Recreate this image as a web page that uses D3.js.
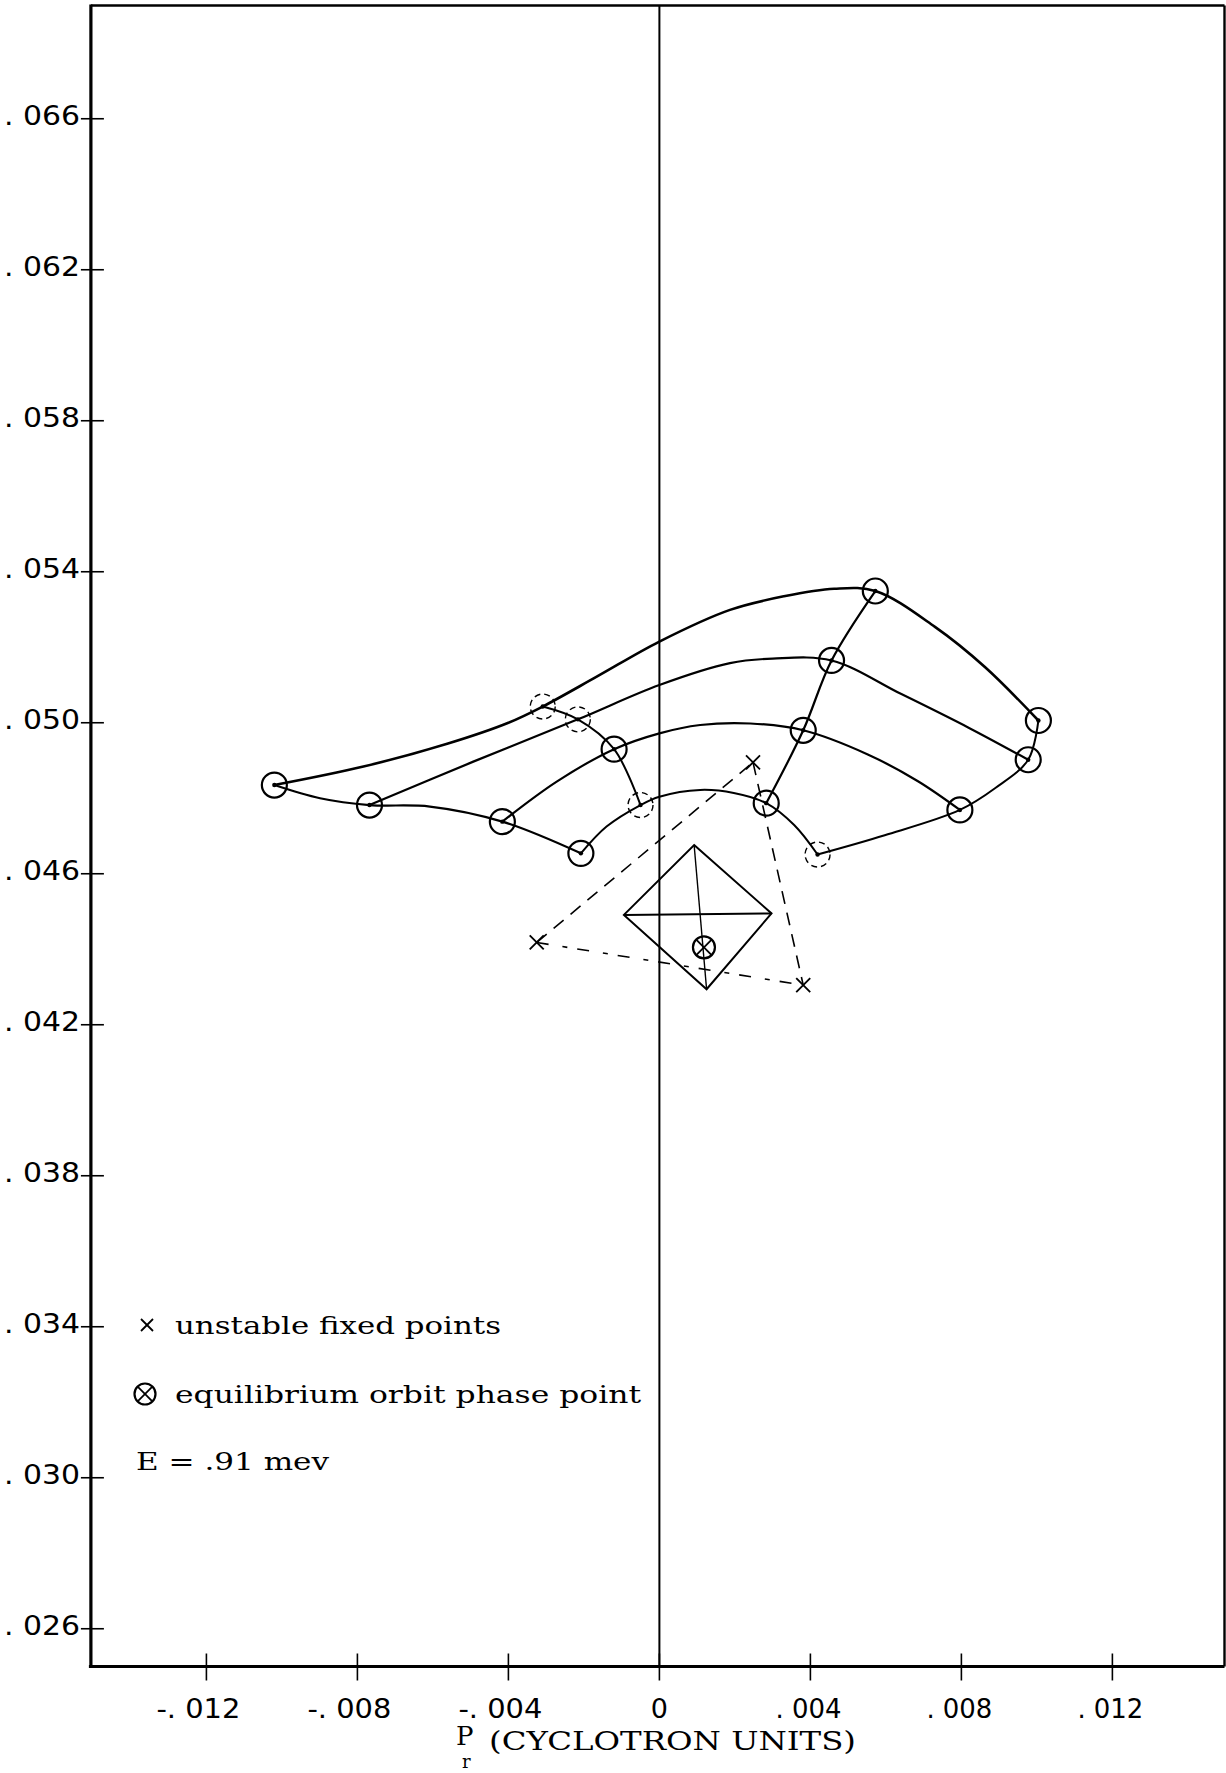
<!DOCTYPE html>
<html>
<head>
<meta charset="utf-8">
<script src="https://cdn.jsdelivr.net/npm/d3@7"></script>
<style>
  body { margin: 0; background: #fff; }
  svg { display: block; }
</style>
</head>
<body>
<svg id="chart" width="1226" height="1773"></svg>
<script>
const width = 1226
const height = 1773

// axis ticks
const xTicks = [-0.012, -0.008, -0.004, 0, 0.004, 0.008, 0.012]
const xTickLabels = ["-. 012", "-. 008", "-. 004", "0", ". 004", ". 008", ". 012"]
const yTicks = [0.026, 0.030, 0.034, 0.038, 0.042, 0.046, 0.050, 0.054, 0.058, 0.062, 0.066]
const yTickLabels = [". 026", ". 030", ". 034", ". 038", ". 042", ". 046", ". 050", ". 054", ". 058", ". 062", ". 066"]

// phase points (circled), A..D = radial families, 1..4 = outer to inner
const phasePoints = [
  {id: "A1", x: -0.01020, y: 0.04835, dashed: false},
  {id: "A2", x: -0.00768, y: 0.04782, dashed: false},
  {id: "A3", x: -0.00416, y: 0.04738, dashed: false},
  {id: "A4", x: -0.00208, y: 0.04654, dashed: false},
  {id: "B1", x: -0.00309, y: 0.05043, dashed: true},
  {id: "B2", x: -0.00216, y: 0.05009, dashed: true},
  {id: "B3", x: -0.00120, y: 0.04930, dashed: false},
  {id: "B4", x: -0.00050, y: 0.04782, dashed: true},
  {id: "C1", x: 0.00572, y: 0.05349, dashed: false},
  {id: "C2", x: 0.00456, y: 0.05165, dashed: false},
  {id: "C3", x: 0.00381, y: 0.04980, dashed: false},
  {id: "C4", x: 0.00283, y: 0.04787, dashed: false},
  {id: "D1", x: 0.01004, y: 0.05006, dashed: false},
  {id: "D2", x: 0.00977, y: 0.04902, dashed: false},
  {id: "D3", x: 0.00796, y: 0.04769, dashed: false},
  {id: "D4", x: 0.00419, y: 0.04651, dashed: true}
]

// contours (traced through the circled points)
const contour1 = [[-0.01020,0.04835],[-0.00784,0.04884],[-0.00560,0.04945],[-0.00400,0.05000],[-0.00309,0.05043],[-0.00166,0.05122],[0,0.05215],[0.00187,0.05299],[0.00330,0.05335],[0.00463,0.05355],[0.00572,0.05349],[0.00730,0.05254],[0.00863,0.05147],[0.01004,0.05006]]
const contour2 = [[-0.00768,0.04782],[-0.00493,0.04897],[-0.00216,0.05009],[0,0.05100],[0.00187,0.05158],[0.00300,0.05170],[0.00456,0.05165],[0.00641,0.05076],[0.00819,0.04987],[0.00977,0.04902]]
const contour3 = [[-0.00416,0.04738],[-0.00272,0.04844],[-0.00120,0.04930],[0,0.04972],[0.00108,0.04994],[0.00241,0.04998],[0.00381,0.04980],[0.00552,0.04916],[0.00685,0.04845],[0.00796,0.04769]]
const contour4 = [[-0.00208,0.04654],[-0.00140,0.04725],[-0.00050,0.04782],[0,0.04804],[0.00108,0.04822],[0.00197,0.04814],[0.00283,0.04787],[0.00357,0.04729],[0.00419,0.04651]]

const lineA = [[-0.01020,0.04835],[-0.00899,0.04800],[-0.00768,0.04782],[-0.00608,0.04778],[-0.00416,0.04738],[-0.00208,0.04654]]
const lineB = [[-0.00309,0.05043],[-0.00216,0.05009],[-0.00120,0.04930],[-0.00050,0.04782]]
const lineC = [[0.00572,0.05349],[0.00456,0.05165],[0.00381,0.04980],[0.00283,0.04787]]
const lineD = [[0.01004,0.05006],[0.00977,0.04902],[0.00890,0.04827],[0.00796,0.04769],[0.00597,0.04702],[0.00419,0.04651]]

// diamond around equilibrium point: top, right, bottom, left
const diamond = [[0.00092,0.04676],[0.00297,0.04495],[0.00125,0.04294],[-0.00094,0.04491]]
const equilibrium = {x: 0.00118, y: 0.04405}

// unstable fixed points: left, top, right
const unstable = [[-0.00325,0.04418],[0.00248,0.04895],[0.00381,0.04305]]

const legendItems = ["unstable fixed points", "equilibrium orbit phase point", "E = .91 mev"]

const xScale = d3.scaleLinear().domain([-0.01506, 0.01497]).range([90.9, 1224.5])
const yScale = d3.scaleLinear().domain([0.025, 0.069]).range([1666.5, 5.5])

const svg = d3.select("#chart")
svg.append("rect").attr("width", width).attr("height", height).attr("fill", "#fff")

const x0 = xScale.range()[0], x1 = xScale.range()[1]
const y0 = yScale.range()[0], y1 = yScale.range()[1]

// frame
svg.append("line").attr("x1", x0).attr("x2", x0).attr("y1", y1 - 1).attr("y2", y0 + 1)
  .attr("stroke", "#000").attr("stroke-width", 3.2)
svg.append("line").attr("x1", x0 - 2).attr("x2", x1).attr("y1", y0).attr("y2", y0)
  .attr("stroke", "#000").attr("stroke-width", 3.2)
svg.append("line").attr("x1", x0).attr("x2", x1).attr("y1", y1).attr("y2", y1)
  .attr("stroke", "#000").attr("stroke-width", 2.6)
svg.append("line").attr("x1", x1).attr("x2", x1).attr("y1", y1).attr("y2", y0)
  .attr("stroke", "#000").attr("stroke-width", 2.4)

// vertical line at Pr = 0
svg.append("line").attr("x1", xScale(0)).attr("x2", xScale(0)).attr("y1", y1).attr("y2", y0)
  .attr("stroke", "#000").attr("stroke-width", 2)

// x ticks (crossing the axis)
svg.append("g").selectAll("line").data(xTicks).join("line")
  .attr("x1", d => xScale(d)).attr("x2", d => xScale(d))
  .attr("y1", y0 - 13).attr("y2", y0 + 14)
  .attr("stroke", "#000").attr("stroke-width", 1.6)
svg.append("g").selectAll("text").data(xTicks).join("text")
  .attr("x", d => xScale(d) - (d < 0 ? 8 : d > 0 ? 2 : 0))
  .attr("y", y0 + 51)
  .attr("text-anchor", "middle")
  .style("font-family", "'DejaVu Sans', sans-serif")
  .style("font-size", "27px")
  .attr("textLength", d => d < 0 ? 84 : d > 0 ? 66 : null)
  .attr("lengthAdjust", "spacingAndGlyphs")
  .text((d, i) => xTickLabels[i])

// y ticks
svg.append("g").selectAll("line").data(yTicks).join("line")
  .attr("x1", x0 - 10).attr("x2", x0 + 13)
  .attr("y1", d => yScale(d)).attr("y2", d => yScale(d))
  .attr("stroke", "#000").attr("stroke-width", 1.6)
svg.append("g").selectAll("text").data(yTicks).join("text")
  .attr("x", x0 - 11)
  .attr("y", d => yScale(d) + 6)
  .attr("text-anchor", "end")
  .style("font-family", "'DejaVu Sans', sans-serif")
  .style("font-size", "27px")
  .attr("textLength", 76)
  .attr("lengthAdjust", "spacingAndGlyphs")
  .text((d, i) => yTickLabels[i])

// axis title (P with subscript r below it)
const title = svg.append("g").style("font-family", "'DejaVu Serif', serif").style("font-size", "26px")
title.append("text").attr("x", 456).attr("y", 1745).text("P")
title.append("text").attr("x", 462).attr("y", 1768).style("font-size", "18px").text("r")
title.append("text").attr("x", 489).attr("y", 1750)
  .attr("textLength", 367).attr("lengthAdjust", "spacingAndGlyphs").text("(CYCLOTRON UNITS)")

// curves
const line = d3.line().x(d => xScale(d[0])).y(d => yScale(d[1])).curve(d3.curveCatmullRom.alpha(0.5))
const curves = [
  {pts: contour1, w: 2.6}, {pts: contour2, w: 2.2}, {pts: contour3, w: 2.2}, {pts: contour4, w: 2},
  {pts: lineA, w: 2.2}, {pts: lineB, w: 2}, {pts: lineC, w: 2.2}, {pts: lineD, w: 2}
]
svg.append("g").selectAll("path").data(curves).join("path")
  .attr("d", d => line(d.pts))
  .attr("fill", "none").attr("stroke", "#000").attr("stroke-width", d => d.w)

// dashed triangle joining unstable points
const straight = d3.line().x(d => xScale(d[0])).y(d => yScale(d[1]))
svg.append("path")
  .attr("d", straight([unstable[0], unstable[1]]))
  .attr("fill", "none").attr("stroke", "#000").attr("stroke-width", 1.6).attr("stroke-dasharray", "13,9")
svg.append("path")
  .attr("d", straight([unstable[1], unstable[2]]))
  .attr("fill", "none").attr("stroke", "#000").attr("stroke-width", 1.6).attr("stroke-dasharray", "13,9")
svg.append("path")
  .attr("d", straight([unstable[0], unstable[2]]))
  .attr("fill", "none").attr("stroke", "#000").attr("stroke-width", 1.6).attr("stroke-dasharray", "12,14,5,10")

// diamond with cross lines
svg.append("path")
  .attr("d", straight(diamond) + "Z")
  .attr("fill", "none").attr("stroke", "#000").attr("stroke-width", 2)
svg.append("path").attr("d", straight([diamond[3], diamond[1]]))
  .attr("stroke", "#000").attr("stroke-width", 2)
svg.append("path").attr("d", straight([diamond[0], diamond[2]]))
  .attr("stroke", "#000").attr("stroke-width", 1.4)

// circled phase points
const pg = svg.append("g").selectAll("g").data(phasePoints).join("g")
  .attr("transform", d => `translate(${xScale(d.x)},${yScale(d.y)})`)
pg.append("circle").attr("r", 12.5).attr("fill", "none").attr("stroke", "#000")
  .attr("stroke-width", d => d.dashed ? 1.4 : 2.2)
  .attr("stroke-dasharray", d => d.dashed ? "6,4" : null)
pg.append("circle").attr("r", 2.2).attr("fill", "#000")

// x marks
function drawX(g, cx, cy, s) {
  g.append("line").attr("x1", cx - s).attr("x2", cx + s).attr("y1", cy - s).attr("y2", cy + s)
    .attr("stroke", "#000").attr("stroke-width", 1.8)
  g.append("line").attr("x1", cx - s).attr("x2", cx + s).attr("y1", cy + s).attr("y2", cy - s)
    .attr("stroke", "#000").attr("stroke-width", 1.8)
}
const xg = svg.append("g")
unstable.forEach(p => drawX(xg, xScale(p[0]), yScale(p[1]), 7))

// equilibrium point
function drawOtimes(g, cx, cy, r) {
  g.append("circle").attr("cx", cx).attr("cy", cy).attr("r", r)
    .attr("fill", "none").attr("stroke", "#000").attr("stroke-width", 2.2)
  const k = r * 0.7
  drawX(g, cx, cy, k)
}
drawOtimes(svg.append("g"), xScale(equilibrium.x), yScale(equilibrium.y), 11)

// legend
const lg = svg.append("g").style("font-family", "'DejaVu Serif', serif").style("font-size", "25px")
drawX(lg, 147, 1325, 6)
drawOtimes(lg, 145, 1394, 10.5)
lg.append("text").attr("x", 175).attr("y", 1334).attr("textLength", 326).attr("lengthAdjust", "spacingAndGlyphs").text(legendItems[0])
lg.append("text").attr("x", 175).attr("y", 1403).attr("textLength", 466).attr("lengthAdjust", "spacingAndGlyphs").text(legendItems[1])
lg.append("text").attr("x", 136).attr("y", 1470).attr("textLength", 193).attr("lengthAdjust", "spacingAndGlyphs").text(legendItems[2])
</script>
</body>
</html>
